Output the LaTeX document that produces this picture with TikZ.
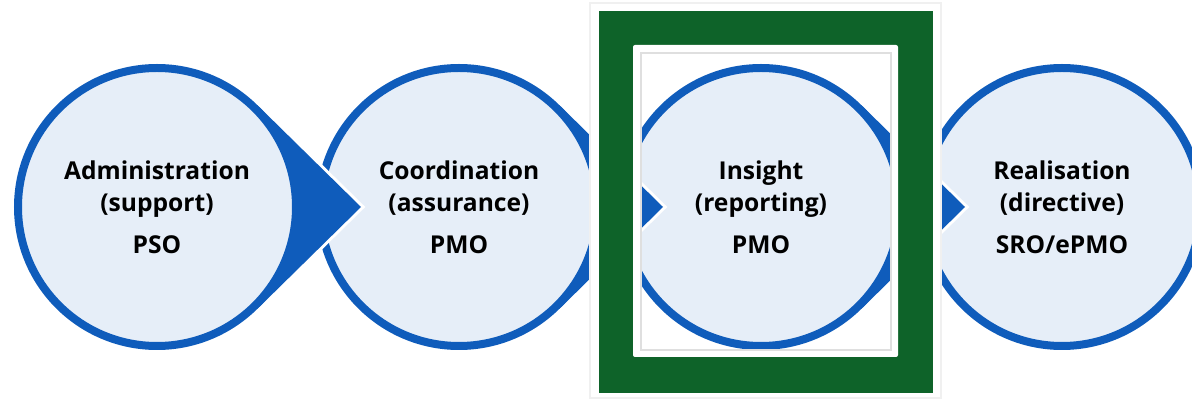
\documentclass[tikz,border=0pt]{standalone}
\usepackage{fontspec}
\setmainfont{Open Sans}
\definecolor{stageblue}{HTML}{0F5CBB}
\definecolor{stagefill}{HTML}{E6EEF8}
\definecolor{framegreen}{HTML}{0E6329}
\begin{document}
\begin{tikzpicture}[x=1pt,y=1pt,
	stage/.style={circle, draw=stageblue, fill=stagefill, line width=8pt, minimum size=278pt, inner sep=0pt, align=center, font=\bfseries\fontsize{24.6}{32}\selectfont},
	pointer/.style={fill=stageblue},
	gap/.style={draw=white, line width=6pt, line join=miter}]
			\useasboundingbox (0,0) rectangle (1192,399);
			\coordinate	(a) at (157,192);
			\coordinate	(b) at (459,192);
			\coordinate	(c) at (761,192);
			\coordinate	(d) at (1062,192);
			\coordinate	(ta) at (361,192);
			\coordinate	(tb) at (663,192);
			\coordinate	(tc) at (965,192);
			\node	(rea) at (d) [stage] {Realisation\\(directive)\\[10pt]SRO/ePMO};
			\draw[gap] ([shift={(45.5:143)}]c) -- (tc) -- ([shift={(-45.5:143)}]c);
			\fill[pointer] (c) -- ([shift={(45.5:143)}]c) -- (tc) -- ([shift={(-45.5:143)}]c) -- cycle;
			\node	(ins) at (c) [stage] {Insight\\(reporting)\\[10pt]PMO};
			\draw[gap] ([shift={(45.5:143)}]b) -- (tb) -- ([shift={(-45.5:143)}]b);
			\fill[pointer] (b) -- ([shift={(45.5:143)}]b) -- (tb) -- ([shift={(-45.5:143)}]b) -- cycle;
			\node	(coo) at (b) [stage] {Coordination\\(assurance)\\[10pt]PMO};
			\draw[gap] ([shift={(45.5:143)}]a) -- (ta) -- ([shift={(-45.5:143)}]a);
			\fill[pointer] (a) -- ([shift={(45.5:143)}]a) -- (ta) -- ([shift={(-45.5:143)}]a) -- cycle;
			\node	(adm) at (a) [stage] {Administration\\(support)\\[10pt]PSO};
			\draw[gray!12, fill=white, line width=1.5pt] (590,1) rectangle (941,396);
			\fill[framegreen] (599,6) rectangle (933,388);
			\fill[white, rounded corners=2pt] (633,42) rectangle (898,354);
			\begin{scope}
				\clip (641,49) rectangle (891,346);
				\draw[gap] ([shift={(45.5:143)}]c) -- (tc) -- ([shift={(-45.5:143)}]c);
				\fill[pointer] (c) -- ([shift={(45.5:143)}]c) -- (tc) -- ([shift={(-45.5:143)}]c) -- cycle;
				\node	(ins2) at (c) [stage] {Insight\\(reporting)\\[10pt]PMO};
				\draw[gap] ([shift={(45.5:143)}]b) -- (tb) -- ([shift={(-45.5:143)}]b);
				\fill[pointer] (b) -- ([shift={(45.5:143)}]b) -- (tb) -- ([shift={(-45.5:143)}]b) -- cycle;
			\end{scope}
			\draw[gray!25, line width=1.5pt] (641,49) rectangle (891,346);
		\end{tikzpicture}
\end{document}
